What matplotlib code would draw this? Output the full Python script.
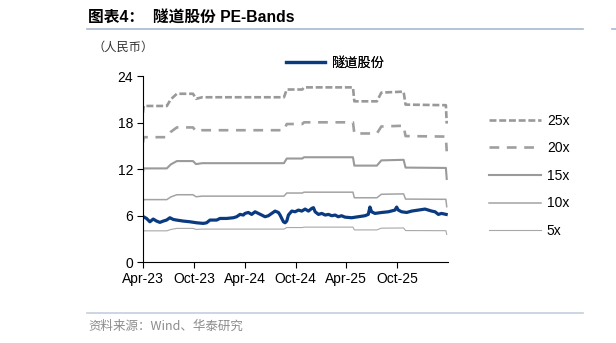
#!/usr/bin/env python3
# -*- coding: utf-8 -*-
# 隧道股份 PE-Bands
import pandas as pd
import matplotlib
matplotlib.use('Agg')
import matplotlib.pyplot as plt
import matplotlib.dates as mdates

plt.rcParams['font.family'] = ['Liberation Sans', 'Noto Sans CJK SC', 'DejaVu Sans']
plt.rcParams['lines.scale_dashes'] = False

# 股价（人民币）
price_dates = ['2023-04-03', '2023-04-14', '2023-04-26', '2023-05-08', '2023-05-20', '2023-06-01',
               '2023-06-13', '2023-06-25', '2023-07-07', '2023-07-19', '2023-07-31', '2023-08-24',
               '2023-09-17', '2023-10-11', '2023-11-04', '2023-11-16', '2023-11-28', '2023-12-22',
               '2024-01-03', '2024-01-27', '2024-02-20', '2024-03-03', '2024-03-15', '2024-03-27',
               '2024-04-02', '2024-04-14', '2024-04-26', '2024-05-08', '2024-05-20', '2024-06-01',
               '2024-06-13', '2024-06-25', '2024-07-07', '2024-07-19', '2024-07-31', '2024-08-06',
               '2024-08-12', '2024-08-18', '2024-08-24', '2024-08-30', '2024-09-05', '2024-09-17',
               '2024-09-29', '2024-10-11', '2024-10-23', '2024-11-04', '2024-11-16', '2024-11-28',
               '2024-12-04', '2024-12-10', '2024-12-22', '2025-01-03', '2025-01-15', '2025-01-27',
               '2025-02-08', '2025-02-20', '2025-03-03', '2025-03-15', '2025-03-27', '2025-04-20',
               '2025-05-14', '2025-06-07', '2025-06-19', '2025-06-25', '2025-07-01', '2025-07-13',
               '2025-08-06', '2025-08-30', '2025-09-23', '2025-09-29', '2025-10-05', '2025-10-17',
               '2025-11-04', '2025-11-22', '2025-12-16', '2026-01-09', '2026-02-02', '2026-02-14',
               '2026-02-26', '2026-03-09', '2026-03-26']
price = [5.85, 5.63, 5.20, 5.55, 5.29, 5.12,
         5.29, 5.42, 5.72, 5.50, 5.42, 5.29,
         5.20, 5.07, 4.99, 5.07, 5.42, 5.42,
         5.63, 5.63, 5.72, 5.85, 6.15, 6.07,
         6.28, 6.40, 6.15, 6.49, 6.28, 6.07,
         5.85, 5.98, 6.28, 6.58, 6.40, 6.07,
         5.63, 5.20, 5.07, 5.29, 6.07, 6.58,
         6.49, 6.71, 6.58, 6.84, 6.58, 6.93,
         7.02, 6.49, 6.15, 6.28, 6.07, 6.15,
         5.98, 6.07, 5.85, 5.98, 5.80, 5.72,
         5.85, 5.98, 6.15, 7.10, 6.49, 6.28,
         6.40, 6.49, 6.71, 7.10, 6.71, 6.49,
         6.40, 6.58, 6.71, 6.84, 6.58, 6.49,
         6.15, 6.28, 6.15]

# 每股收益（滚动），用于计算 PE 通道
eps_dates = ['2023-04-01', '2023-04-04', '2023-06-26', '2023-07-10', '2023-08-01', '2023-09-28',
             '2023-10-09', '2023-10-31', '2024-08-20', '2024-08-30', '2024-10-25', '2024-10-31',
             '2025-04-25', '2025-04-30', '2025-07-20', '2025-08-05', '2025-10-24', '2025-10-31',
             '2026-03-25', '2026-03-28']
eps = [0.77, 0.806, 0.806, 0.84, 0.869, 0.869,
       0.843, 0.851, 0.851, 0.891, 0.891, 0.902,
       0.902, 0.830, 0.830, 0.875, 0.880, 0.813,
       0.810, 0.715]

multiples = [25, 20, 15, 10, 5]
band_labels = ['25x', '20x', '15x', '10x', '5x']

x_ticks = ['2023-04-01', '2023-10-01', '2024-04-01', '2024-10-01', '2025-04-01', '2025-10-01']


def draw_bands():
    fig = plt.figure(figsize=(6.16, 3.43), dpi=100)
    ax = fig.add_axes([0.232, 0.236, 0.495, 0.542])

    d_eps = pd.to_datetime(eps_dates)
    styles = {
        25: dict(color='#999999', lw=1.9, dashes=(5, 2)),
        20: dict(color='#9f9f9f', lw=1.9, dashes=(7, 5.5)),
        15: dict(color='#9a9a9a', lw=1.5),
        10: dict(color='#a3a3a3', lw=1.1),
        5: dict(color='#a8a8a8', lw=0.8),
    }
    band_lines = []
    for m, lab in zip(multiples, band_labels):
        vals = [m * e for e in eps]
        ln, = ax.plot(d_eps, vals, label=lab, **styles[m])
        band_lines.append(ln)

    pl, = ax.plot(pd.to_datetime(price_dates), price, color='#0a3a80', lw=2.3,
                  label='隧道股份', solid_joinstyle='round')

    ax.set_ylim(0, 24)
    ax.set_yticks([0, 6, 12, 18, 24])
    ax.set_xlim(pd.Timestamp('2023-04-01'), pd.Timestamp('2026-04-01'))
    ax.set_xticks(pd.to_datetime(x_ticks))
    ax.xaxis.set_major_formatter(mdates.DateFormatter('%b-%y'))
    ax.spines['top'].set_visible(False)
    ax.spines['right'].set_visible(False)
    ax.tick_params(labelsize=10, length=4, width=0.8, colors='black', pad=3)

    leg1 = ax.legend(handles=[pl], loc='upper left', bbox_to_anchor=(0.43, 1.17),
                     frameon=False, handlelength=3.0, handletextpad=0.5,
                     prop={'family': ['Noto Sans CJK SC'], 'size': 9.5})
    ax.add_artist(leg1)
    fig.legend(handles=band_lines, loc='upper left', bbox_to_anchor=(0.785, 0.685),
               frameon=False, fontsize=10, handlelength=3.7, handletextpad=0.45,
               labelspacing=0.98, borderaxespad=0)

    fig.text(0.143, 0.947, '图表4：  隧道股份 PE-Bands', fontsize=11.3, fontweight='bold',
             family=['Liberation Sans', 'Noto Sans CJK SC'], va='center')
    fig.add_artist(plt.Line2D([0.141, 0.946], [0.915, 0.915], color='#a8b9cf', lw=1.2))
    fig.add_artist(plt.Line2D([0.994, 1.0], [0.915, 0.915], color='#a8b9cf', lw=1.2))
    fig.text(0.150, 0.862, '（人民币）', fontsize=8.8, color='#333333',
             family=['Noto Sans CJK SC'], va='center')
    fig.add_artist(plt.Line2D([0.141, 0.946], [0.087, 0.087], color='#c4d0de', lw=1.2))
    fig.text(0.143, 0.05, '资料来源：Wind、华泰研究', fontsize=9, color='#8c8c8c',
             family=['Noto Sans CJK SC'], va='center')

    fig.savefig('out.png', dpi=100)


def main():
    draw_bands()


if __name__ == "__main__":
    main()
